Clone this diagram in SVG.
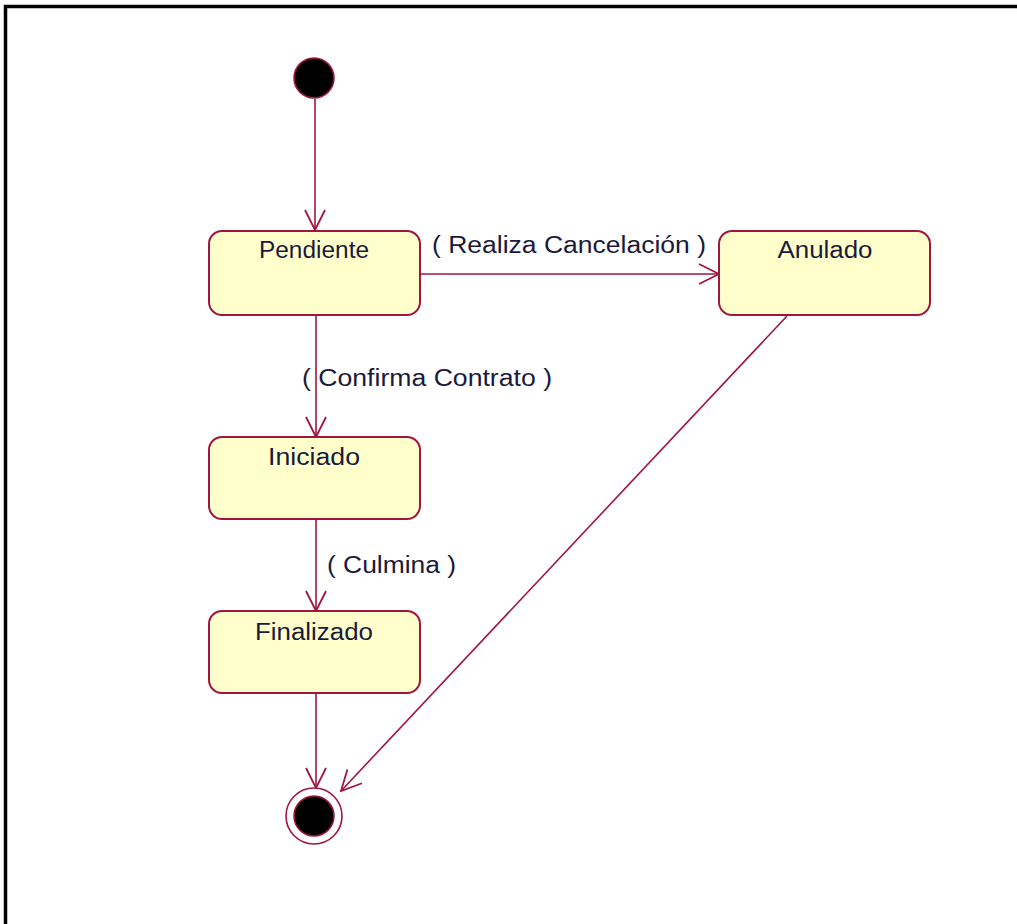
<svg xmlns="http://www.w3.org/2000/svg" width="1017" height="924" viewBox="0 0 1017 924">
  <style>
    .state rect { fill: #FFFFCC; stroke: #A0163F; stroke-width: 2; }
    .state text { font-family: "Liberation Sans", Arial, sans-serif; font-size: 23px; fill: #1a1a3a; text-anchor: middle; }
    .edge { stroke: #A0163F; stroke-width: 1.6; fill: none; }
    .label { font-family: "Liberation Sans", Arial, sans-serif; font-size: 23px; fill: #1a1a3a; }
  </style>
  <defs>
    <marker id="open" viewBox="0 0 24 24" refX="22" refY="12" markerWidth="24" markerHeight="24" markerUnits="userSpaceOnUse" orient="auto">
      <path d="M2 2 L22 12 L2 22" fill="none" stroke="#A0163F" stroke-width="1.8"/>
    </marker>
  </defs>

  <rect width="1017" height="924" fill="#ffffff"/>
  <!-- frame -->
  <path d="M5.5 924 V6.5 H1017" fill="none" stroke="#000" stroke-width="3.5"/>

  <g id="connectors">
    <line class="edge" x1="315" y1="99" x2="315" y2="230" marker-end="url(#open)"/>
    <line class="edge" x1="420" y1="274" x2="719" y2="274" marker-end="url(#open)"/>
    <line class="edge" x1="316" y1="315" x2="316" y2="437" marker-end="url(#open)"/>
    <line class="edge" x1="316" y1="519" x2="316" y2="611" marker-end="url(#open)"/>
    <line class="edge" x1="316" y1="693" x2="316" y2="788" marker-end="url(#open)"/>
    <line class="edge" x1="787" y1="316" x2="341" y2="791" marker-end="url(#open)"/>
    <text class="label" x="432" y="253" textLength="274" lengthAdjust="spacingAndGlyphs">( Realiza Cancelación )</text>
    <text class="label" x="302" y="386" textLength="250" lengthAdjust="spacingAndGlyphs">( Confirma Contrato )</text>
    <text class="label" x="327" y="573" textLength="129" lengthAdjust="spacingAndGlyphs">( Culmina )</text>
  </g>

  <g id="initial">
    <circle cx="314" cy="78" r="20" fill="#000" stroke="#A0163F" stroke-width="1.5"/>
  </g>

  <g id="pendiente" class="state">
    <rect x="209" y="231" width="211" height="84" rx="13"/>
    <text x="314" y="258" textLength="110" lengthAdjust="spacingAndGlyphs">Pendiente</text>
  </g>

  <g id="anulado" class="state">
    <rect x="719" y="231" width="211" height="84" rx="13"/>
    <text x="825" y="258" textLength="95" lengthAdjust="spacingAndGlyphs">Anulado</text>
  </g>

  <g id="iniciado" class="state">
    <rect x="209" y="437" width="211" height="82" rx="13"/>
    <text x="314" y="465" textLength="92" lengthAdjust="spacingAndGlyphs">Iniciado</text>
  </g>

  <g id="finalizado" class="state">
    <rect x="209" y="611" width="211" height="82" rx="13"/>
    <text x="314" y="640" textLength="118" lengthAdjust="spacingAndGlyphs">Finalizado</text>
  </g>

  <g id="final">
    <circle cx="314" cy="816" r="28" fill="#fff" stroke="#A0163F" stroke-width="1.6"/>
    <circle cx="314" cy="816" r="20" fill="#000" stroke="#A0163F" stroke-width="1.5"/>
  </g>
</svg>
